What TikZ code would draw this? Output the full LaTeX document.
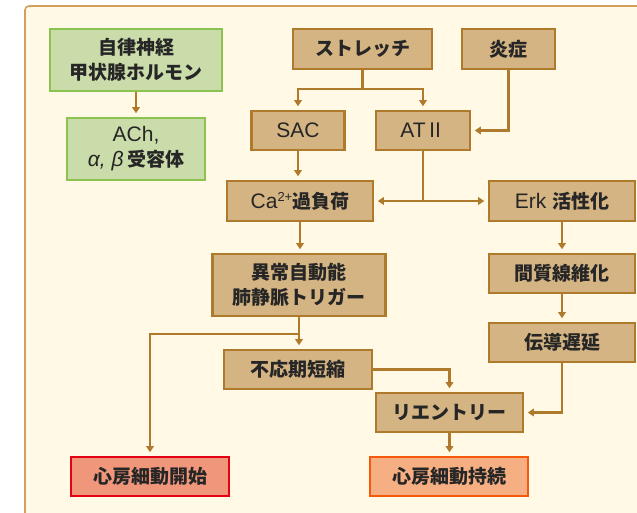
\documentclass[tikz,border=0pt]{standalone}
\usepackage{fontspec}
\setmainfont{Noto Sans CJK JP}
\newfontfamily\lat{Liberation Sans}
\newcommand{\La}[1]{{\lat\mdseries\fontsize{21}{25}\selectfont #1}}
\usetikzlibrary{arrows.meta}
\definecolor{bgcream}{HTML}{FFF9E6}
\definecolor{frameC}{HTML}{D2A05A}
\definecolor{tanF}{HTML}{D5B483}
\definecolor{tanB}{HTML}{B07A2C}
\definecolor{grnF}{HTML}{CADCAA}
\definecolor{grnB}{HTML}{8CC350}
\definecolor{redF}{HTML}{F0967A}
\definecolor{redB}{HTML}{E60014}
\definecolor{orgF}{HTML}{F5AF82}
\definecolor{orgB}{HTML}{F55A0A}
\tikzset{
  box/.style={draw=tanB, fill=tanF, line width=2.6pt, inner sep=0pt, align=center,
    font=\fontsize{19}{25}\selectfont\bfseries, text=black!85},
  gbox/.style={box, draw=grnB, fill=grnF},
  rbox/.style={box, draw=redB, fill=redF},
  obox/.style={box, draw=orgB, fill=orgF},
  arr/.style={draw=tanB, line width=2.2pt, -{Triangle[length=6pt,width=7.5pt]}, shorten >=3.5pt},
  ln/.style={draw=tanB, line width=2.2pt},
}
\begin{document}
\begin{tikzpicture}[x=1pt,y=-1pt]
\useasboundingbox (0,0) rectangle (637,512);
\fill[white] (0,0) rectangle (637,512);
\draw[frameC, fill=bgcream, line width=1.6pt, rounded corners=4pt] (25,6) rectangle (660,530);

\node[gbox, minimum width=172pt, minimum height=62pt] (g1) at (136,60) {自律神経\\甲状腺ホルモン};
\node[gbox, minimum width=138pt, minimum height=62pt] (g2) at (136,149) {\La{ACh,}\\\La{\itshape α, β\,}受容体};
\node[box, minimum width=139pt, minimum height=40pt] (st) at (362.5,49) {ストレッチ};
\node[box, minimum width=93pt, minimum height=40pt] (en) at (508.5,49) {炎症};
\node[box, minimum width=93pt, minimum height=39pt] (sac) at (298,130.5) {\La{SAC}};
\node[box, minimum width=94pt, minimum height=39pt] (at) at (423,130.5) {\La{AT}{\mdseries\fontsize{20}{25}\selectfont Ⅱ}};
\node[box, minimum width=146pt, minimum height=40pt] (ca) at (300,201) {\La{Ca}{\lat\mdseries\fontsize{13}{13}\selectfont\raisebox{0.55em}{2+}}過負荷};
\node[box, minimum width=146pt, minimum height=40pt] (erk) at (562,201) {\La{Erk }活性化};
\node[box, minimum width=173pt, minimum height=62pt] (ab) at (299,285) {異常自動能\\肺静脈トリガー};
\node[box, minimum width=146pt, minimum height=39pt] (km) at (562,273.5) {間質線維化};
\node[box, minimum width=146pt, minimum height=39pt] (dd) at (562,342.5) {伝導遅延};
\node[box, minimum width=148pt, minimum height=39pt] (fo) at (298,369.5) {不応期短縮};
\node[box, minimum width=147pt, minimum height=39pt] (re) at (449.5,412.5) {リエントリー};
\node[rbox, minimum width=158pt, minimum height=39pt] (af1) at (150,476.5) {心房細動開始};
\node[obox, minimum width=158pt, minimum height=39pt] (af2) at (449,476.5) {心房細動持続};

\draw[arr] (g1.south) -- (g2.north);
\draw[ln] (st.south) -- ++(0,19) coordinate (j1);
\draw[arr] (j1) -| (sac.north);
\draw[arr] (j1) -| (at.north);
\draw[arr] (en.south) |- (at.east);
\draw[arr] (sac.south) -- (sac.south |- ca.north);
\draw[ln] (at.south) -- (at.south |- ca.east) coordinate (j2);
\draw[arr] (j2) -- (ca.east);
\draw[arr] (j2) -- (erk.west);
\draw[arr] (ca.south) -- (ca.south |- ab.north);
\draw[ln] (ab.south) -- ++(0,17) coordinate (j3);
\draw[arr] (j3) -| (af1.north);
\draw[arr] (j3) -- (j3 |- fo.north);
\draw[arr] (erk.south) -- (km.north);
\draw[arr] (km.south) -- (dd.north);
\draw[arr] (fo.east) -| (re.north);
\draw[arr] (dd.south) |- (re.east);
\draw[arr] (re.south) -- (re.south |- af2.north);
\end{tikzpicture}
\end{document}
